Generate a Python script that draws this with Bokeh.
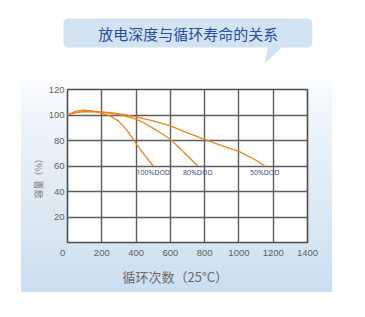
from bokeh.embed import file_html
from bokeh.resources import INLINE
from bokeh.plotting import figure
from bokeh.layouts import column
from bokeh.models import (BoxAnnotation, FixedTicker, ColumnDataSource,
                          Range1d, Title)
from bokeh.core.properties import value

# ---- data -------------------------------------------------------------
title_text = "放电深度与循环寿命的关系"
x_title = "循环次数（25°C）"
y_title = "容量（%）"

x_ticks = [0, 200, 400, 600, 800, 1000, 1200, 1400]
y_ticks = [20, 40, 60, 80, 100, 120]

dod100_cycles = [0, 50, 100, 150, 200, 250, 300, 350, 400, 450, 500]
dod100_capacity = [100, 103.0, 103.8, 103.0, 101.5, 99.2, 95.0, 87.5, 77.5, 68.5, 60.0]

dod80_cycles = [0, 50, 100, 150, 200, 300, 400, 450, 500, 550, 600, 650, 700, 760]
dod80_capacity = [100, 102.0, 102.8, 102.8, 102.3, 100.5, 96.8, 93.5, 89.5, 85.5, 81.0, 74.5, 68.0, 60.0]

dod50_cycles = [0, 50, 100, 200, 300, 400, 500, 600, 700, 800, 900, 1000, 1100, 1150]
dod50_capacity = [100, 102.0, 102.6, 102.5, 101.0, 98.5, 95.3, 91.5, 86.0, 80.8, 76.0, 71.5, 64.5, 60.0]

end_labels = ["100%DOD", "80%DOD", "50%DOD"]
end_cycles = [dod100_cycles[-1], dod80_cycles[-1], dod50_cycles[-1]]
end_capacity = [dod100_capacity[-1], dod80_capacity[-1], dod50_capacity[-1]]

# ---- styling ----------------------------------------------------------
CJK = "Noto Sans CJK SC"
LATIN = "Liberation Sans"
LINE_ORANGE = "#e8871e"
BUBBLE = "#d2e4f1"
TICK_GREY = "#5f5f5f"

# ---- heading: speech-bubble banner ------------------------------------
HEAD_W, HEAD_H = 365, 68
head = figure(width=HEAD_W, height=HEAD_H, output_backend="svg",
              toolbar_location=None, x_axis_type=None, y_axis_type=None,
              x_range=Range1d(0, HEAD_W), y_range=Range1d(HEAD_H, 0),
              min_border=0)
head.outline_line_color = None
head.grid.visible = False
head.background_fill_color = "white"
head.border_fill_color = "white"
head.add_layout(BoxAnnotation(left=21, right=330, top=18, bottom=47,
                              fill_color=BUBBLE, fill_alpha=1.0, line_color=None,
                              border_radius=5, level="underlay", editable=False))
head.patch([275, 293, 271], [46, 46, 63], fill_color=BUBBLE, line_color=None)
head.text(x=[176], y=[32.5], text=[title_text], text_font=value(CJK),
          text_font_size="15px", text_color="#2b4b9e",
          text_align="center", text_baseline="middle")

# ---- chart on a soft blue panel ----------------------------------------
PANEL_L, PANEL_R, PANEL_T, PANEL_B = 21, 332, 68, 292
FRAME_L, FRAME_R, FRAME_T, FRAME_B = 67, 307, 89, 242

p = figure(width=PANEL_R - PANEL_L, height=PANEL_B - PANEL_T,
           output_backend="svg", toolbar_location=None,
           x_range=Range1d(0, 1400), y_range=Range1d(0, 120),
           min_border_left=FRAME_L - PANEL_L, min_border_right=PANEL_R - FRAME_R,
           min_border_top=FRAME_T - PANEL_T, min_border_bottom=PANEL_B - FRAME_B)
p.margin = (0, 0, 0, PANEL_L)
p.styles = {"background": "linear-gradient(to bottom, #ffffff 0%, #f1f6fa 20%, "
                          "#e2ecf5 50%, #d4e5f1 80%, #cadef0 100%)"}
p.border_fill_color = None
p.background_fill_color = "white"
p.outline_line_color = "#4d4d4d"
p.outline_line_width = 1.6

p.xaxis.ticker = FixedTicker(ticks=x_ticks)
p.yaxis.ticker = FixedTicker(ticks=y_ticks)
p.xaxis.major_label_overrides = {0: "0\u2002\u2002"}
for ax in (p.xaxis, p.yaxis):
    ax.axis_line_color = None
    ax.major_tick_line_color = None
    ax.minor_tick_line_color = None
    ax.major_tick_out = 0
    ax.major_tick_in = 0
    ax.minor_tick_out = 0
    ax.major_label_text_font = LATIN
    ax.major_label_text_font_size = "9.5px"
    ax.major_label_text_color = TICK_GREY
p.xaxis.major_label_standoff = 4
p.yaxis.major_label_standoff = 3

p.xgrid.grid_line_color = "#5e5e5e"
p.ygrid.grid_line_color = "#5e5e5e"
p.xgrid.grid_line_width = 1.4
p.ygrid.grid_line_width = 1.4

# axis titles
p.add_layout(Title(text=x_title, align="left", offset=55, standoff=8,
                   text_font=CJK, text_font_size="13px", text_font_style="normal",
                   text_color="#6a6a6a"), "below")
p.add_layout(Title(text=y_title, align="left", offset=44, standoff=2,
                   text_font=CJK, text_font_size="9px", text_font_style="normal",
                   text_color="#7a7a7a"), "left")

# cycle-life curves
for xs, ys in ((dod100_cycles, dod100_capacity),
               (dod80_cycles, dod80_capacity),
               (dod50_cycles, dod50_capacity)):
    p.line(xs, ys, line_color=LINE_ORANGE, line_width=1.3)

labels = ColumnDataSource(dict(x=end_cycles, y=end_capacity, t=end_labels))
p.text(x="x", y="y", text="t", source=labels, text_font=value("Noto Sans"),
       text_font_size="7px", text_color="#3e4f88", text_align="center",
       text_baseline="top", y_offset=2)

page = column(head, p, spacing=0)
open("out.html", "w").write(file_html(page, INLINE))
